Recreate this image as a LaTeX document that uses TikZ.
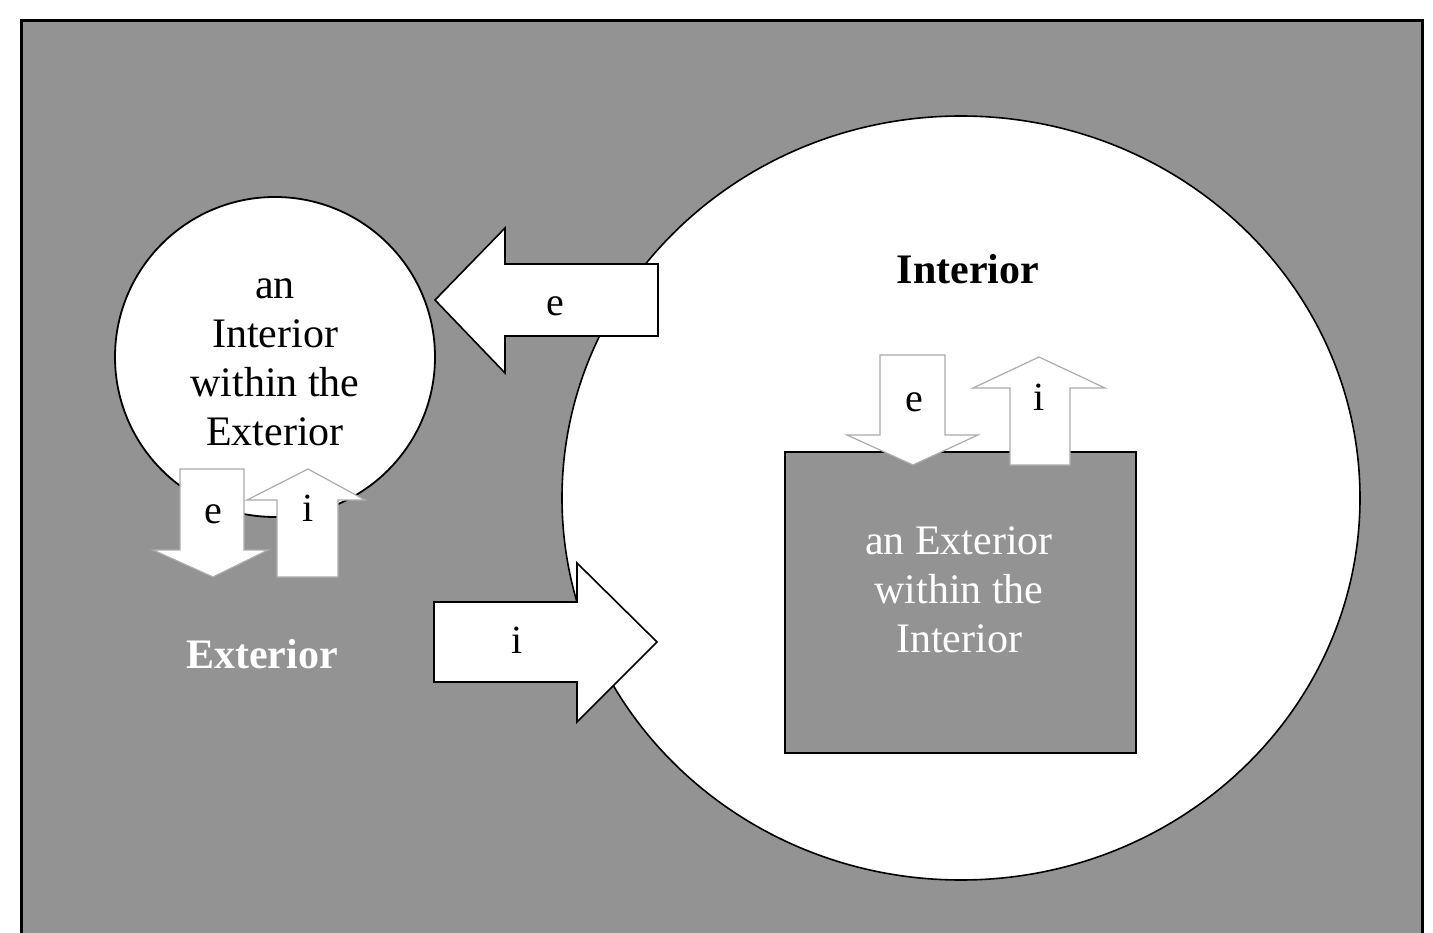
\documentclass[tikz,border=0pt]{standalone}
\usepackage{fontspec}
\setmainfont{Liberation Serif}
\definecolor{bggray}{HTML}{939393}
\definecolor{rimgray}{HTML}{ACACAC}
\tikzset{
  bigarrow/.style={draw=black, fill=white, line width=1.6pt, line join=miter},
  smallarrow/.style={draw=rimgray, fill=white, line width=1.2pt, line join=miter},
  lbl/.style={font=\fontsize{40}{48}\selectfont, inner sep=0pt},
  blk/.style={font=\fontsize{42}{49}\selectfont, align=center, inner sep=0pt},
}

\begin{document}
\begin{tikzpicture}[x=1pt,y=-1pt]
\clip (0,0) rectangle (1433,933);
\useasboundingbox (0,0) rectangle (1433,933);
\fill[white] (0,0) rectangle (1433,933);
% frame
\draw[fill=bggray, line width=3pt] (21,21) rectangle (1422,980);

% the interior and the exterior inside it
\draw[fill=white, line width=1.6pt] (961,498) ellipse [x radius=399pt, y radius=382pt];
\node[draw, fill=bggray, line width=1.6pt, minimum width=351pt, minimum height=301pt,
  inner sep=0pt] (inrect) at (960.5,602.5) {};
\node[blk, text=white] (extin) at (959,590) {an Exterior\\within the\\Interior};
\node[blk, font=\fontsize{42}{49}\selectfont\bfseries] (intlbl) at (968,269) {Interior};

% the interior inside the exterior
\draw[fill=white, line width=1.8pt] (275,357) circle [radius=160pt];
\node[blk] (intex) at (275,362) {an\\Interior\\within the\\Exterior};
\node[blk, text=white, font=\fontsize{42}{49}\selectfont\bfseries] (extlbl) at (262,654) {Exterior};

% big arrows
\draw[bigarrow] (658,264) -- (505,264) -- (505,228) -- (435,300) -- (505,373)
  -- (505,336) -- (658,336) -- cycle;
\node[lbl] (eout) at (555,306) {e};
\draw[bigarrow] (434,602) -- (577,602) -- (577,563) -- (657,642) -- (577,722)
  -- (577,682) -- (434,682) -- cycle;
\node[lbl] (iin) at (517,640) {i};

% small arrows, left
\draw[smallarrow] (180,469) -- (244,469) -- (244,550) -- (268,550) -- (213,577)
  -- (153,550) -- (180,550) -- cycle;
\node[lbl] (eleft) at (213,514) {e};
\draw[smallarrow] (277,577) -- (277,500) -- (247,500) -- (308,469) -- (365,500)
  -- (338,500) -- (338,577) -- cycle;
\node[lbl] (ileft) at (308,508) {i};

% small arrows, right
\draw[smallarrow] (880,355) -- (945,355) -- (945,435) -- (978,435) -- (913,465)
  -- (847,435) -- (880,435) -- cycle;
\node[lbl] (eright) at (914,402) {e};
\draw[smallarrow] (1010,465) -- (1010,388) -- (973,388) -- (1039,357) -- (1105,388)
  -- (1070,388) -- (1070,465) -- cycle;
\node[lbl] (iright) at (1039,397) {i};
\end{tikzpicture}
\end{document}
